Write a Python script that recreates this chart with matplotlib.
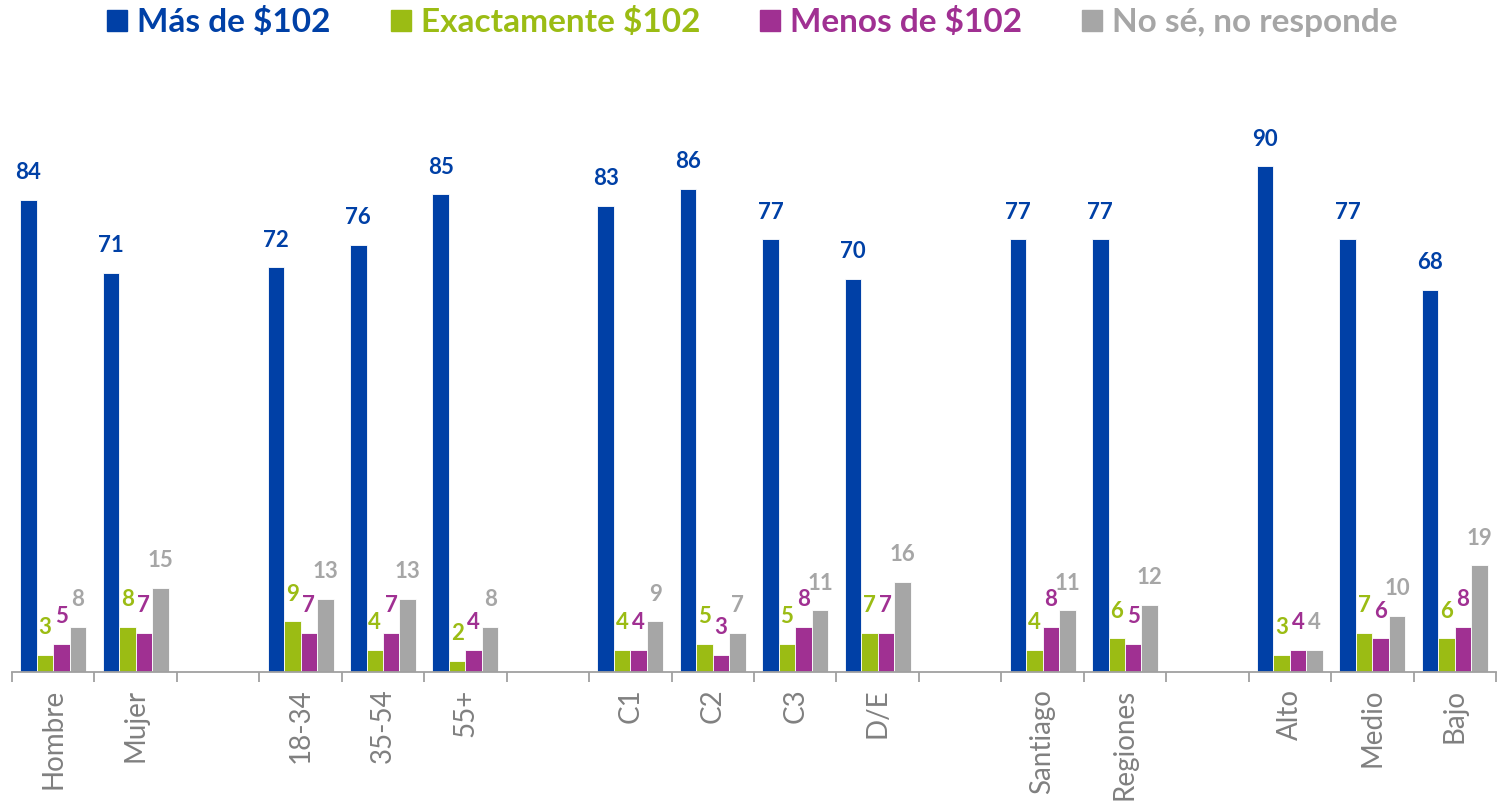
import matplotlib
matplotlib.use("Agg")
import matplotlib.pyplot as plt
from matplotlib.patches import Patch
import numpy as np

plt.rcParams['font.family'] = ['Lato', 'DejaVu Sans']

categories = ["Hombre", "Mujer", "", "18-34", "35-54", "55+", "", "C1", "C2", "C3", "D/E",
              "", "Santiago", "Regiones", "", "Alto", "Medio", "Bajo"]
mas = [84, 71, None, 72, 76, 85, None, 83, 86, 77, 70, None, 77, 77, None, 90, 77, 68]
exacto = [3, 8, None, 9, 4, 2, None, 4, 5, 5, 7, None, 4, 6, None, 3, 7, 6]
menos = [5, 7, None, 7, 7, 4, None, 4, 3, 8, 7, None, 8, 5, None, 4, 6, 8]
nose = [8, 15, None, 13, 13, 8, None, 9, 7, 11, 16, None, 11, 12, None, 4, 10, 19]

series_names = ["Más de $102", "Exactamente $102", "Menos de $102", "No sé, no responde"]
colors = ["#0040A6", "#9BBC14", "#A03092", "#A6A6A6"]
series = [mas, exacto, menos, nose]

fig = plt.figure(figsize=(15.11, 8.08), dpi=100)
ax = fig.add_axes([12/1511, 136/808, (1496-12)/1511, 562/808])

width = 0.2
offsets = [-0.3, -0.1, 0.1, 0.3]
for vals, col, off in zip(series, colors, offsets):
    xs = [i + off for i, v in enumerate(vals) if v is not None]
    ys = [v for v in vals if v is not None]
    ax.bar(xs, ys, width=width, color=col, edgecolor='white', linewidth=0.6)
    for x, y in zip(xs, ys):
        ax.annotate(str(y), (x, y), xytext=(0, 12), textcoords='offset points',
                    ha='center', va='bottom', color=col, fontsize=16, fontweight='bold')

ax.set_xlim(-0.5, len(categories) - 0.5)
ax.set_ylim(0, 100)
for s in ['top', 'right', 'left']:
    ax.spines[s].set_visible(False)
ax.spines['bottom'].set_color('#A0A0A0')
ax.spines['bottom'].set_linewidth(1.3)
ax.set_yticks([])

ax.set_xticks(np.arange(-0.5, len(categories)), minor=False)
ax.set_xticklabels([])
ax.tick_params(axis='x', which='major', direction='out', length=7, width=1.3, color='#A0A0A0')
ax.set_xticks(np.arange(len(categories)), minor=True)
ax.set_xticklabels(categories, minor=True, rotation=90, va='top', ha='center',
                   fontsize=20, color='#808080')
ax.tick_params(axis='x', which='minor', length=0, pad=12)

handles = [Patch(facecolor=c, edgecolor=c) for c in colors]
leg = fig.legend(handles, series_names, loc='center', bbox_to_anchor=(0.498, 1 - 22/808), ncol=4,
                 frameon=False, handlelength=0.6, handleheight=0.6, handletextpad=0.3,
                 columnspacing=1.8, borderpad=0, prop={'size': 24, 'weight': 'bold'})
for t, c in zip(leg.get_texts(), colors):
    t.set_color(c)

fig.savefig("out.png", dpi=100)
